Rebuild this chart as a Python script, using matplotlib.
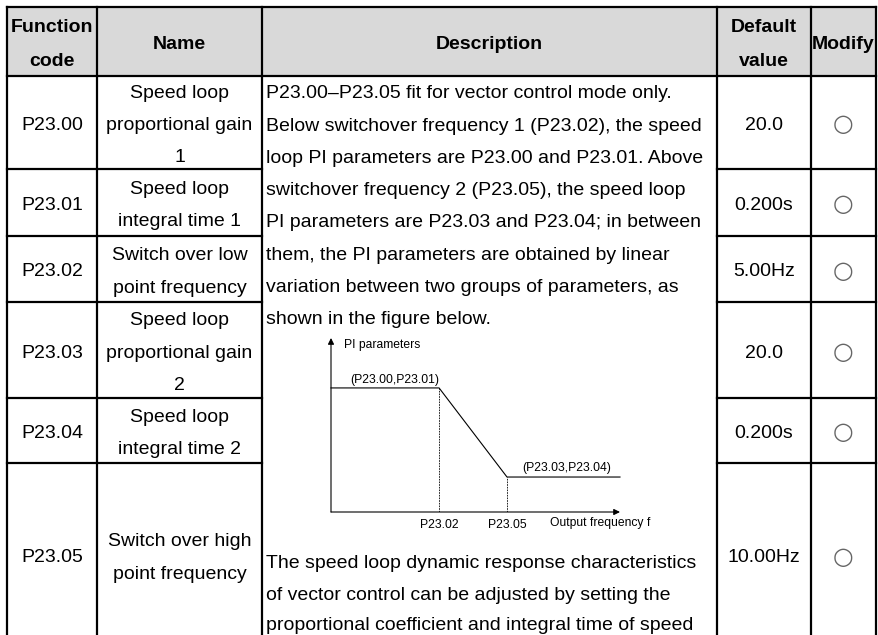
import matplotlib.pyplot as plt
from matplotlib.patches import Rectangle

plt.rcParams['font.family'] = ['Liberation Sans', 'DejaVu Sans']

# table content
headers = [["Function", "code"], ["Name"], ["Description"], ["Default", "value"], ["Modify"]]
codes = ["P23.00", "P23.01", "P23.02", "P23.03", "P23.04", "P23.05"]
names = [["Speed loop", "proportional gain", "1"],
         ["Speed loop", "integral time 1"],
         ["Switch over low", "point frequency"],
         ["Speed loop", "proportional gain", "2"],
         ["Speed loop", "integral time 2"],
         ["Switch over high", "point frequency"]]
defaults = ["20.0", "0.200s", "5.00Hz", "20.0", "0.200s", "10.00Hz"]
modify = ["○", "○", "○", "○", "○", "○"]
desc_top = ["P23.00–P23.05 fit for vector control mode only.",
            "Below switchover frequency 1 (P23.02), the speed",
            "loop PI parameters are P23.00 and P23.01. Above",
            "switchover frequency 2 (P23.05), the speed loop",
            "PI parameters are P23.03 and P23.04; in between",
            "them, the PI parameters are obtained by linear",
            "variation between two groups of parameters, as",
            "shown in the figure below."]
desc_bottom = ["The speed loop dynamic response characteristics",
               "of vector control can be adjusted by setting the",
               "proportional coefficient and integral time of speed"]

# PI parameter sketch
freq = [0, 3.74, 6.09, 10]
pi_val = [7.13, 7.13, 2.01, 2.01]

# layout in pixels
col_x = [7, 97, 262, 717, 811, 876]
row_y = [7, 76, 169, 236, 302, 398, 463, 647]
fs = 14
lh = 32.2

fig = plt.figure(figsize=(8.79, 6.35), dpi=100)
ax = fig.add_axes([0, 0, 1, 1])
ax.set_xlim(0, 879)
ax.set_ylim(635, 0)
ax.axis('off')

ax.add_patch(Rectangle((col_x[0], row_y[0]), col_x[-1] - col_x[0], row_y[1] - row_y[0],
                       facecolor='#d9d9d9', edgecolor='none'))

lw = 1.6
for x in col_x:
    ax.plot([x, x], [row_y[0], 640], color='black', lw=lw, solid_capstyle='projecting')
ax.plot([col_x[0], col_x[-1]], [row_y[0], row_y[0]], color='black', lw=lw)
ax.plot([col_x[0], col_x[-1]], [row_y[1], row_y[1]], color='black', lw=lw)
for y in row_y[2:-1]:
    ax.plot([col_x[0], col_x[2]], [y, y], color='black', lw=lw)
    ax.plot([col_x[3], col_x[5]], [y, y], color='black', lw=lw)

# header
hy = (row_y[0] + row_y[1]) / 2 + 3
for i, h in enumerate(headers):
    cx = (col_x[i] + col_x[i + 1]) / 2
    n = len(h)
    for j, t in enumerate(h):
        ax.text(cx, hy + (j - (n - 1) / 2) * 35, t, ha='center', va='center',
                fontsize=fs, fontweight='bold')

# body rows
for r in range(len(codes)):
    cy = (row_y[r + 1] + row_y[r + 2]) / 2 + 3
    ax.text((col_x[0] + col_x[1]) / 2, cy, codes[r], ha='center', va='center', fontsize=fs)
    n = len(names[r])
    for j, t in enumerate(names[r]):
        ax.text((col_x[1] + col_x[2]) / 2, cy + (j - (n - 1) / 2) * lh, t,
                ha='center', va='center', fontsize=fs)
    ax.text((col_x[3] + col_x[4]) / 2, cy, defaults[r], ha='center', va='center', fontsize=fs)
    ax.text((col_x[4] + col_x[5]) / 2, cy - 1, modify[r], ha='center', va='center',
            fontsize=17, color='#666666', family=['DejaVu Sans'])

for j, t in enumerate(desc_top):
    ax.text(col_x[2] + 4, 94 + j * lh, t, ha='left', va='center', fontsize=fs)
for j, t in enumerate(desc_bottom):
    ax.text(col_x[2] + 4, 564 + j * 31, t, ha='left', va='center', fontsize=fs)

# embedded sketch
ins = fig.add_axes([331 / 879, 1 - 512 / 635, (620 - 331) / 879, (512 - 338) / 635])
ins.set_xlim(0, 10)
ins.set_ylim(0, 10)
ins.axis('off')
arrow = dict(arrowstyle='-|>', lw=0.8, color='black', mutation_scale=9, shrinkA=0, shrinkB=0)
ins.annotate('', xy=(10, 0), xytext=(0, 0), arrowprops=arrow, annotation_clip=False)
ins.annotate('', xy=(0, 10), xytext=(0, 0), arrowprops=arrow, annotation_clip=False)
ins.plot(freq, pi_val, color='black', lw=0.8, clip_on=False)
for f, v in zip(freq[1:3], pi_val[1:3]):
    ins.plot([f, f], [0, v], color='black', lw=0.6, ls=(0, (2, 1.2)))
sfs = 8.7
ins.text(0.45, 9.6, "PI parameters", ha='left', va='center', fontsize=sfs)
ins.text(2.21, 7.6, "(P23.00,P23.01)", ha='center', va='center', fontsize=sfs)
ins.text(8.17, 2.5, "(P23.03,P23.04)", ha='center', va='center', fontsize=sfs)
ins.text(freq[1], -0.75, "P23.02", ha='center', va='center', fontsize=sfs)
ins.text(freq[2], -0.75, "P23.05", ha='center', va='center', fontsize=sfs)
ins.text(7.58, -0.63, "Output frequency f", ha='left', va='center', fontsize=sfs)

fig.savefig('out.png', dpi=100)
